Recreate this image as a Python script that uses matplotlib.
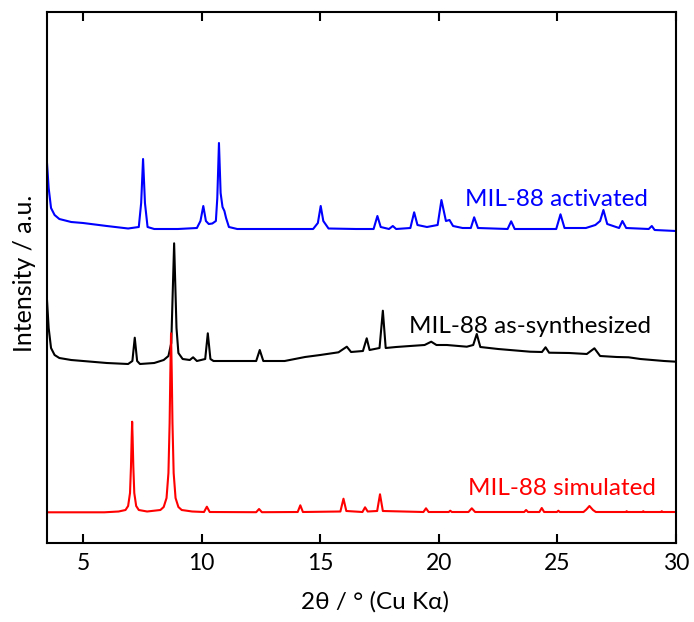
import matplotlib
matplotlib.use("Agg")
import matplotlib.pyplot as plt

plt.rcParams['font.family'] = ['Lato', 'DejaVu Sans']

# MIL-88 activated (blue), 2theta in deg, intensity a.u. (offset as drawn)
act_x = [3.48, 3.55, 3.65, 3.8, 4.0, 4.5, 5.0, 6.0, 6.9, 7.35, 7.45, 7.53, 7.61, 7.72,
         8.0, 9.0, 9.8, 9.95, 10.07, 10.18, 10.3, 10.45, 10.6, 10.66, 10.73, 10.8,
         10.88, 10.96, 11.03, 11.15, 11.5, 12.5, 13.5, 14.7, 14.9, 15.02, 15.13, 15.35,
         16.5, 17.25, 17.41, 17.55, 17.9, 18.06, 18.2, 18.8, 18.96, 19.1, 19.5, 19.95,
         20.11, 20.3, 20.45, 20.6, 21.0, 21.35, 21.49, 21.65, 22.9, 23.05, 23.2, 24.95,
         25.13, 25.3, 26.2, 26.6, 26.8, 26.94, 27.1, 27.6, 27.74, 27.9, 28.85, 28.98,
         29.1, 30.0]
act_y = [380, 355, 335, 328, 324, 321, 320, 317, 314.5, 316, 340, 384, 340, 316,
         314, 314, 315, 322, 337, 322, 319, 319.5, 322, 345, 400, 350,
         336, 332, 325, 316, 314, 314, 314, 314, 320, 337, 322, 314.5,
         314, 314, 327, 316, 314, 317, 314, 315, 330.7, 318, 316, 318,
         343, 322, 323, 317, 315, 315, 325.7, 315, 314, 321.7, 314, 314,
         328.7, 315, 315, 318, 322, 333, 319, 315, 322, 315, 314, 317,
         313, 312]

# MIL-88 as-synthesized (black)
syn_x = [3.48, 3.55, 3.65, 3.8, 4.0, 4.5, 5.0, 6.0, 6.9, 7.08, 7.18, 7.28, 7.4, 8.0,
         8.4, 8.6, 8.72, 8.84, 8.94, 9.02, 9.2, 9.5, 9.64, 9.8, 10.15, 10.26, 10.37,
         10.5, 12.3, 12.45, 12.6, 13.5, 14.36, 15.0, 15.77, 16.12, 16.3, 16.8, 16.96,
         17.08, 17.5, 17.64, 17.76, 18.2, 18.79, 19.4, 19.68, 19.9, 20.34, 21.18, 21.45,
         21.6, 21.75, 22.5, 23.5, 23.85, 24.35, 24.5, 24.65, 25.5, 26.24, 26.56, 26.8,
         27.5, 28.0, 28.5, 29.5, 30.0]
syn_y = [243, 215, 195, 188, 185, 183, 182, 180, 179, 182, 205.3, 182, 179, 180,
         183, 187, 200, 299.7, 215, 190, 184, 183, 185.7, 182, 184, 209.7, 184,
         182, 182, 193, 182, 182, 186, 188, 190.7, 196.3, 191, 192, 204.7,
         193, 195, 232.3, 195, 196, 197, 198, 201.3, 198, 198, 196.3, 198,
         209, 196, 194, 192, 191.3, 191, 195.7, 190.3, 190, 189, 194.7, 187,
         186, 185.7, 184, 182, 181.3]

# MIL-88 simulated (red)
sim_x = [3.48, 5.9, 6.5, 6.79, 6.9, 6.98, 7.02, 7.05, 7.07, 7.09, 7.12, 7.16, 7.24,
         7.35, 7.7, 8.26, 8.4, 8.52, 8.6, 8.65, 8.68, 8.71, 8.74, 8.77, 8.82, 8.9,
         9.02, 9.16, 9.6, 10.1, 10.22, 10.34, 12.3, 12.42, 12.54, 14.05, 14.16, 14.27,
         15.85, 15.98, 16.1, 16.78, 16.89, 17.0, 17.4, 17.52, 17.64, 19.35, 19.46,
         19.57, 20.42, 20.48, 20.55, 21.25, 21.39, 21.53, 23.6, 23.68, 23.76, 24.24,
         24.34, 24.44, 24.98, 25.04, 25.1, 26.1, 26.22, 26.35, 26.5, 26.62, 27.88,
         27.92, 27.96, 28.58, 28.62, 28.66, 29.36, 29.4, 29.44, 30.0]
sim_y = [30.7, 30.7, 31.5, 33, 37, 50, 76, 105, 121.3, 105, 76, 50, 37,
         33, 31.5, 33, 36, 45, 70, 120, 170, 209.7, 170, 120, 70, 45,
         36, 33, 31.5, 31, 36.3, 31, 30.8, 34, 30.8, 31, 37.7, 31,
         31.5, 44.3, 32, 31, 35.7, 31.5, 32, 48.7, 32, 31, 34.7,
         31, 31, 32.3, 31, 31, 34.7, 31, 31, 33, 31, 31,
         35, 31, 31, 32.3, 31, 31, 33.5, 37, 33, 31, 31,
         31.8, 31, 31, 31.8, 31, 31, 31.8, 31, 31]

labels = ["MIL-88 activated", "MIL-88 as-synthesized", "MIL-88 simulated"]
xticks = [5, 10, 15, 20, 25, 30]

fig = plt.figure(figsize=(6.94, 6.22), dpi=100)
ax = fig.add_axes([47/694, 1 - 543/622, (676 - 47)/694, (543 - 12)/622])

ax.plot(act_x, act_y, color='#0000ff', lw=1.5)
ax.plot(syn_x, syn_y, color='black', lw=1.5)
ax.plot(sim_x, sim_y, color='#ff0000', lw=1.5)

ax.text(28.82, 337, labels[0], color='#0000ff', fontsize=17.5, ha='right', va='baseline')
ax.text(28.95, 210, labels[1], color='black', fontsize=17.5, ha='right', va='baseline')
ax.text(29.16, 48, labels[2], color='#ff0000', fontsize=17.5, ha='right', va='baseline')

ax.set_xlim(3.48, 30)
ax.set_ylim(0, 531)
ax.set_xticks(xticks)
ax.set_yticks([])
ax.tick_params(axis='x', direction='in', top=True, length=6.5, width=1.5,
               labelsize=16.5, pad=7)
for sp in ax.spines.values():
    sp.set_linewidth(1.5)

fig.text(24/694, 1 - 273/622, "Intensity / a.u.", rotation=90, fontsize=18,
         ha='center', va='center')
fig.text(375/694, 1 - 609/622, "2θ / ° (Cu Kα)", fontsize=17.5,
         ha='center', va='baseline')

fig.savefig("out.png", dpi=100)
